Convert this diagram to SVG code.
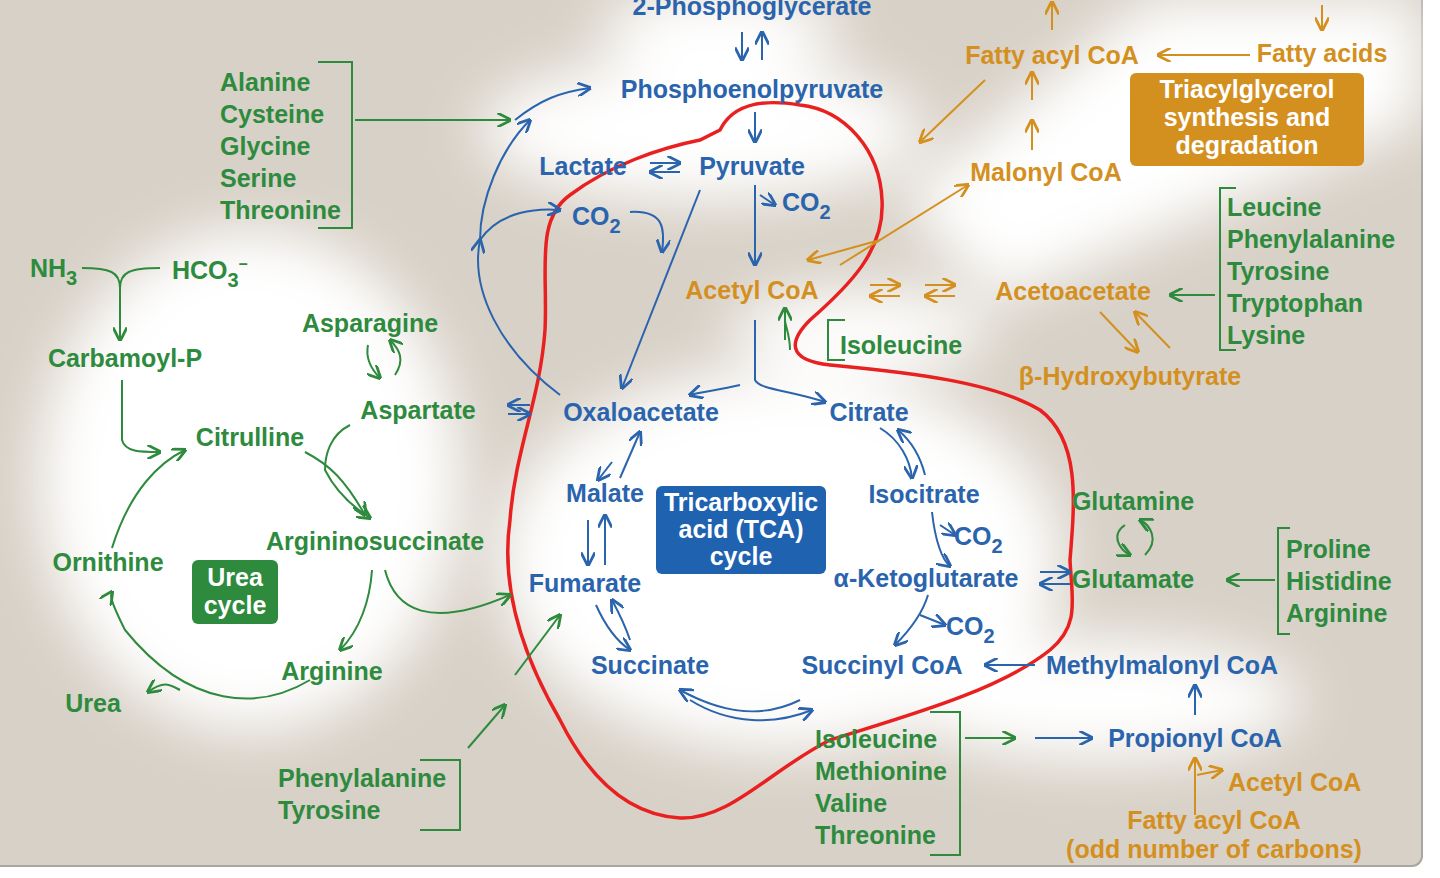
<svg xmlns="http://www.w3.org/2000/svg" width="1440" height="878" viewBox="0 0 1440 878">
<defs>
<filter id="blur" x="-50%" y="-50%" width="200%" height="200%"><feGaussianBlur stdDeviation="28"/></filter>
<marker id="ab" viewBox="0 0 10 10" refX="9" refY="5" markerWidth="7" markerHeight="7" orient="auto-start-reverse"><path d="M0,0 L10,5 L0,10" fill="none" stroke="#2a64ad" stroke-width="2"/></marker>
<marker id="ag" viewBox="0 0 10 10" refX="9" refY="5" markerWidth="7" markerHeight="7" orient="auto-start-reverse"><path d="M0,0 L10,5 L0,10" fill="none" stroke="#2e8b3e" stroke-width="2"/></marker>
<marker id="ao" viewBox="0 0 10 10" refX="9" refY="5" markerWidth="7" markerHeight="7" orient="auto-start-reverse"><path d="M0,0 L10,5 L0,10" fill="none" stroke="#d4901f" stroke-width="2"/></marker>
</defs>
<style>
text{font-family:"Liberation Sans",Arial,sans-serif;font-weight:bold;font-size:25px}
.b{fill:#2a64ad}.g{fill:#2e8b3e}.o{fill:#d4901f}.w{fill:#fff}
.m{text-anchor:middle}
.lb{fill:none;stroke:#2a64ad;stroke-width:2;marker-end:url(#ab)}
.lg{fill:none;stroke:#2e8b3e;stroke-width:2;marker-end:url(#ag)}
.lo{fill:none;stroke:#d4901f;stroke-width:2;marker-end:url(#ao)}
.br{fill:none;stroke:#2e8b3e;stroke-width:2}
</style>
<rect width="1440" height="878" fill="#fff"/>
<rect x="-10" y="-10" width="1432" height="876" rx="10" fill="#d8d1c7" stroke="#a9a59f" stroke-width="2"/>
<g id="glow" fill="#fff" filter="url(#blur)">
<ellipse cx="250" cy="480" rx="210" ry="250"/>
<ellipse cx="780" cy="560" rx="280" ry="190"/>
<ellipse cx="700" cy="130" rx="220" ry="70"/>
<ellipse cx="720" cy="30" rx="120" ry="40"/>
<ellipse cx="860" cy="330" rx="130" ry="40"/>
<path d="M900,200 L1150,0 L1420,0 L1420,120 L1000,300 Z"/>
<ellipse cx="1100" cy="700" rx="200" ry="60"/>
</g>
<path id="red" d="M720,130 C735,100 770,100 800,105 C845,110 880,150 882,200 C885,250 850,285 810,320 C790,340 785,360 830,365 C900,372 990,380 1040,410 C1080,440 1075,500 1070,560 C1072,600 1080,625 1050,650 C1000,690 910,715 830,740 C770,770 730,820 680,818 C630,815 590,780 560,720 C525,660 500,590 510,520 C515,450 540,400 545,330 C548,270 535,220 570,195 C610,165 660,148 700,140 Z" fill="none" stroke="#e82020" stroke-width="3.5"/>
<g id="connectors">
<path class="lb" d="M742,32 V60"/><path class="lb" d="M762,60 V32"/>
<path class="lb" d="M755,112 V142"/>
<path class="lb" d="M515,120 C540,100 560,92 590,88"/>
<path class="lb" d="M480,240 C480,200 500,150 530,120"/>
<path class="lb" d="M560,395 C500,350 470,290 480,240"/>
<path class="lb" d="M480,240 C500,210 540,208 560,210"/>
<path class="lb" d="M630,212 C665,210 665,230 662,252"/>
<path class="lb" d="M650,163 H680"/><path class="lb" d="M680,172 H650"/>
<path class="lb" d="M755,185 V265"/>
<path class="lb" d="M760,195 L775,205"/>
<path class="lb" d="M700,190 L622,388"/>
<path class="lb" d="M755,320 V380 C760,390 790,390 825,402"/>
<path class="lb" d="M740,385 C720,390 700,392 690,395"/>
<path class="lb" d="M530,405 H508"/><path class="lb" d="M508,414 H530"/>
<path class="lb" d="M880,428 C900,440 910,460 912,478"/><path class="lb" d="M925,475 C920,455 910,440 898,430"/>
<path class="lb" d="M932,512 C935,540 942,560 950,566"/>
<path class="lb" d="M940,525 L955,535"/>
<path class="lb" d="M928,595 C922,615 910,630 895,645"/>
<path class="lb" d="M920,615 L945,625"/>
<path class="lb" d="M1040,572 H1070"/><path class="lb" d="M1070,584 H1040"/>
<path class="lb" d="M1035,665 H985"/>
<path class="lb" d="M1195,715 V685"/>
<path class="lb" d="M1035,738 H1092"/>
<path class="lb" d="M612,462 L598,480"/><path class="lb" d="M620,478 L640,432"/>
<path class="lb" d="M588,520 V565"/><path class="lb" d="M605,565 V515"/>
<path class="lb" d="M596,605 C605,625 615,640 630,650"/><path class="lb" d="M630,640 C625,625 620,615 612,600"/>
<path class="lb" d="M800,700 C760,720 720,712 680,690"/><path class="lb" d="M690,700 C730,725 775,725 812,710"/>
<path class="lg" d="M355,120 H510"/>
<path class="lg" d="M120,288 V340"/><path class="br" d="M82,268 C110,268 120,272 120,288 C120,272 130,268 160,268"/>
<path class="lg" d="M122,380 V440 C125,452 140,452 160,452"/>
<path class="lg" d="M368,345 C365,360 372,370 380,378"/><path class="lg" d="M395,375 C405,360 400,350 390,340"/>
<path class="lg" d="M350,425 C330,435 325,455 325,470 C335,490 350,505 370,518"/>
<path class="lg" d="M305,452 C330,465 345,480 365,515"/>
<path class="lg" d="M372,570 C370,600 360,630 340,650"/>
<path class="lg" d="M385,570 C395,610 430,630 510,595"/>
<path class="lg" d="M310,680 C260,710 190,710 125,630 C110,600 110,595 112,592"/>
<path class="lg" d="M112,548 C130,490 160,462 185,450"/>
<path class="lg" d="M180,690 C170,685 165,680 148,692"/>
<path class="lg" d="M515,675 L560,615"/>
<path class="lg" d="M468,748 L505,705"/>
<path class="lg" d="M965,738 H1015"/>
<path class="lg" d="M785,340 V308"/><path class="br" d="M790,350 C790,335 785,325 785,320"/>
<path class="lg" d="M1215,295 H1170"/>
<path class="lg" d="M1275,580 H1227"/>
<path class="lg" d="M1125,525 C1110,535 1120,550 1130,555"/><path class="lg" d="M1145,555 C1160,540 1150,525 1140,520"/>
<path class="br" d="M318,62 H352 V228 H318"/>
<path class="br" d="M1236,188 H1220 V350 H1236"/>
<path class="br" d="M1290,528 H1278 V634 H1290"/>
<path class="br" d="M930,712 H960 V855 H930"/>
<path class="br" d="M420,760 H460 V830 H420"/>
<path class="br" d="M845,320 H828 V360 H845"/>
<path class="lo" d="M1052,30 V2"/><path class="lo" d="M1322,5 V30"/>
<path class="lo" d="M1250,55 H1158"/>
<path class="lo" d="M1032,150 V120"/><path class="lo" d="M1032,100 V72"/>
<path class="lo" d="M985,80 L920,142"/>
<path class="lo" d="M880,240 L808,260"/>
<path class="lo" d="M840,265 L968,185"/>
<path class="lo" d="M870,285 H900"/><path class="lo" d="M900,296 H870"/>
<path class="lo" d="M925,285 H955"/><path class="lo" d="M955,296 H925"/>
<path class="lo" d="M1100,312 L1138,352"/><path class="lo" d="M1170,348 L1135,312"/>
<path class="lo" d="M1195,815 V758"/><path class="lo" d="M1197,775 L1222,770"/>
</g>
<g id="n-top"><text class="b m" x="752" y="15">2-Phosphoglycerate</text><text class="b m" x="752" y="98">Phosphoenolpyruvate</text></g>
<g id="n-lactate"><text class="b m" x="583" y="175">Lactate</text></g>
<g id="n-pyruvate"><text class="b m" x="752" y="175">Pyruvate</text></g>
<g id="n-co2a"><text class="b" x="572" y="225">CO<tspan dy="8" font-size="20">2</tspan></text></g>
<g id="n-co2b"><text class="b" x="782" y="211">CO<tspan dy="8" font-size="20">2</tspan></text></g>
<g id="n-acetyl"><text class="o m" x="752" y="299">Acetyl CoA</text></g>
<g id="n-ile1"><text class="g" x="840" y="354">Isoleucine</text></g>
<g id="n-oaa"><text class="b m" x="641" y="421">Oxaloacetate</text></g>
<g id="n-citrate"><text class="b m" x="869" y="421">Citrate</text></g>
<g id="n-malate"><text class="b m" x="605" y="502">Malate</text></g>
<g id="n-isocit"><text class="b m" x="924" y="503">Isocitrate</text></g>
<g id="n-tca"><rect x="656" y="486" width="170" height="88" rx="6" fill="#1f62b0"/><text class="w m" x="741" y="511">Tricarboxylic</text><text class="w m" x="741" y="538">acid (TCA)</text><text class="w m" x="741" y="565">cycle</text></g>
<g id="n-fum"><text class="b m" x="585" y="592">Fumarate</text></g>
<g id="n-akg"><text class="b m" x="926" y="587">α-Ketoglutarate</text></g>
<g id="n-co2c"><text class="b" x="954" y="545">CO<tspan dy="8" font-size="20">2</tspan></text></g>
<g id="n-co2d"><text class="b" x="946" y="635">CO<tspan dy="8" font-size="20">2</tspan></text></g>
<g id="n-succ"><text class="b m" x="650" y="674">Succinate</text></g>
<g id="n-succoa"><text class="b m" x="882" y="674">Succinyl CoA</text></g>
<g id="n-mmcoa"><text class="b m" x="1162" y="674">Methylmalonyl CoA</text></g>
<g id="n-propcoa"><text class="b m" x="1195" y="747">Propionyl CoA</text></g>
<g id="n-acetyl2"><text class="o" x="1228" y="791">Acetyl CoA</text></g>
<g id="n-fattyodd"><text class="o m" x="1214" y="829">Fatty acyl CoA</text><text class="o m" x="1214" y="858">(odd number of carbons)</text></g>
<g id="n-imvt"><text class="g" x="815" y="748">Isoleucine</text><text class="g" x="815" y="780">Methionine</text><text class="g" x="815" y="812">Valine</text><text class="g" x="815" y="844">Threonine</text></g>
<g id="n-phetyr"><text class="g" x="278" y="787">Phenylalanine</text><text class="g" x="278" y="819">Tyrosine</text></g>
<g id="n-nh3"><text class="g" x="30" y="277">NH<tspan dy="8" font-size="20">3</tspan></text></g>
<g id="n-hco3"><text class="g" x="172" y="279">HCO<tspan dy="8" font-size="20">3</tspan><tspan dy="-18" font-size="16">–</tspan></text></g>
<g id="n-carb"><text class="g m" x="125" y="367">Carbamoyl-P</text></g>
<g id="n-citr"><text class="g m" x="250" y="446">Citrulline</text></g>
<g id="n-asn"><text class="g m" x="370" y="332">Asparagine</text></g>
<g id="n-asp"><text class="g m" x="418" y="419">Aspartate</text></g>
<g id="n-argsucc"><text class="g m" x="375" y="550">Argininosuccinate</text></g>
<g id="n-orn"><text class="g m" x="108" y="571">Ornithine</text></g>
<g id="n-urea-box"><rect x="192" y="560" width="86" height="64" rx="6" fill="#2e8b3e"/><text class="w m" x="235" y="586">Urea</text><text class="w m" x="235" y="614">cycle</text></g>
<g id="n-arg"><text class="g m" x="332" y="680">Arginine</text></g>
<g id="n-urea"><text class="g m" x="93" y="712">Urea</text></g>
<g id="n-acgst"><text class="g" x="220" y="91">Alanine</text><text class="g" x="220" y="123">Cysteine</text><text class="g" x="220" y="155">Glycine</text><text class="g" x="220" y="187">Serine</text><text class="g" x="220" y="219">Threonine</text></g>
<g id="n-fattyacyl"><text class="o m" x="1052" y="64">Fatty acyl CoA</text></g>
<g id="n-fattyacids"><text class="o m" x="1322" y="62">Fatty acids</text></g>
<g id="n-tag"><rect x="1130" y="73" width="234" height="93" rx="6" fill="#d4901f"/><text class="w m" x="1247" y="98">Triacylglycerol</text><text class="w m" x="1247" y="126">synthesis and</text><text class="w m" x="1247" y="154">degradation</text></g>
<g id="n-malonyl"><text class="o m" x="1046" y="181">Malonyl CoA</text></g>
<g id="n-acetoac"><text class="o m" x="1073" y="300">Acetoacetate</text></g>
<g id="n-bhb"><text class="o m" x="1130" y="385">β-Hydroxybutyrate</text></g>
<g id="n-lptt"><text class="g" x="1227" y="216">Leucine</text><text class="g" x="1227" y="248">Phenylalanine</text><text class="g" x="1227" y="280">Tyrosine</text><text class="g" x="1227" y="312">Tryptophan</text><text class="g" x="1227" y="344">Lysine</text></g>
<g id="n-gln"><text class="g m" x="1133" y="510">Glutamine</text></g>
<g id="n-glu"><text class="g m" x="1133" y="588">Glutamate</text></g>
<g id="n-pha"><text class="g" x="1286" y="558">Proline</text><text class="g" x="1286" y="590">Histidine</text><text class="g" x="1286" y="622">Arginine</text></g>
</svg>
